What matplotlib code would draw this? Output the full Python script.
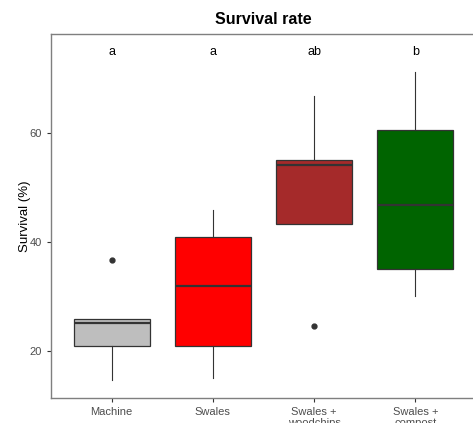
import matplotlib
matplotlib.use("Agg")
import matplotlib.pyplot as plt

plt.rcParams['font.family'] = ['Liberation Sans', 'DejaVu Sans']

# box summary per treatment (survival %)
treatments = ['Machine', 'Swales', 'Swales +\nwoodchips', 'Swales +\ncompost']
q1 = [20.9, 20.9, 43.2, 35.0]
med = [25.1, 31.8, 54.0, 46.8]
q3 = [25.9, 40.9, 55.0, 60.4]
whisker_lo = [14.7, 15.1, 43.2, 30.0]
whisker_hi = [25.9, 45.9, 66.7, 71.1]
outliers = [[36.6], [], [24.5], []]
letters = ['a', 'a', 'ab', 'b']
fills = ['#BEBEBE', '#FF0000', '#A52A2A', '#006400']

W, H = 473, 423
fig = plt.figure(figsize=(W / 100, H / 100), dpi=100)
ax = fig.add_axes([51 / W, (H - 397.7) / H, (476 - 51) / W, (397.7 - 34.5) / H])

stats = []
for i in range(len(treatments)):
    stats.append(dict(label=treatments[i], q1=q1[i], med=med[i], q3=q3[i],
                      whislo=whisker_lo[i], whishi=whisker_hi[i], fliers=outliers[i]))

pos = list(range(1, len(treatments) + 1))
bp = ax.bxp(stats, positions=pos, widths=0.75, patch_artist=True, showcaps=False,
            boxprops=dict(edgecolor='#333333', linewidth=0.9),
            medianprops=dict(color='#333333', linewidth=1.6),
            whiskerprops=dict(color='#333333', linewidth=0.8),
            flierprops=dict(marker='o', markersize=3.5, markerfacecolor='#333333',
                            markeredgecolor='#333333'))
for patch, c in zip(bp['boxes'], fills):
    patch.set_facecolor(c)

for x, lab in zip(pos, letters):
    ax.text(x, 74.7, lab, ha='center', va='center', fontsize=9, color='black')

ax.set_xlim(0.4, 4.6)
ax.set_ylim(11.4, 78.0)
ax.set_yticks([20, 40, 60])
ax.set_xticks(pos)
ax.set_xticklabels(treatments)
ax.tick_params(axis='both', colors='#333333', labelcolor='#4D4D4D', labelsize=8,
               length=3, width=0.8)
for s in ax.spines.values():
    s.set_color('#7F7F7F')
    s.set_linewidth(1.0)

ax.set_ylabel('Survival (%)', fontsize=9.5, color='black', labelpad=-1)
fig.text(263 / W, 1 - 20 / H, 'Survival rate', ha='center', va='center',
         fontsize=11.5, fontweight='bold')

fig.savefig('out.png', dpi=100)
